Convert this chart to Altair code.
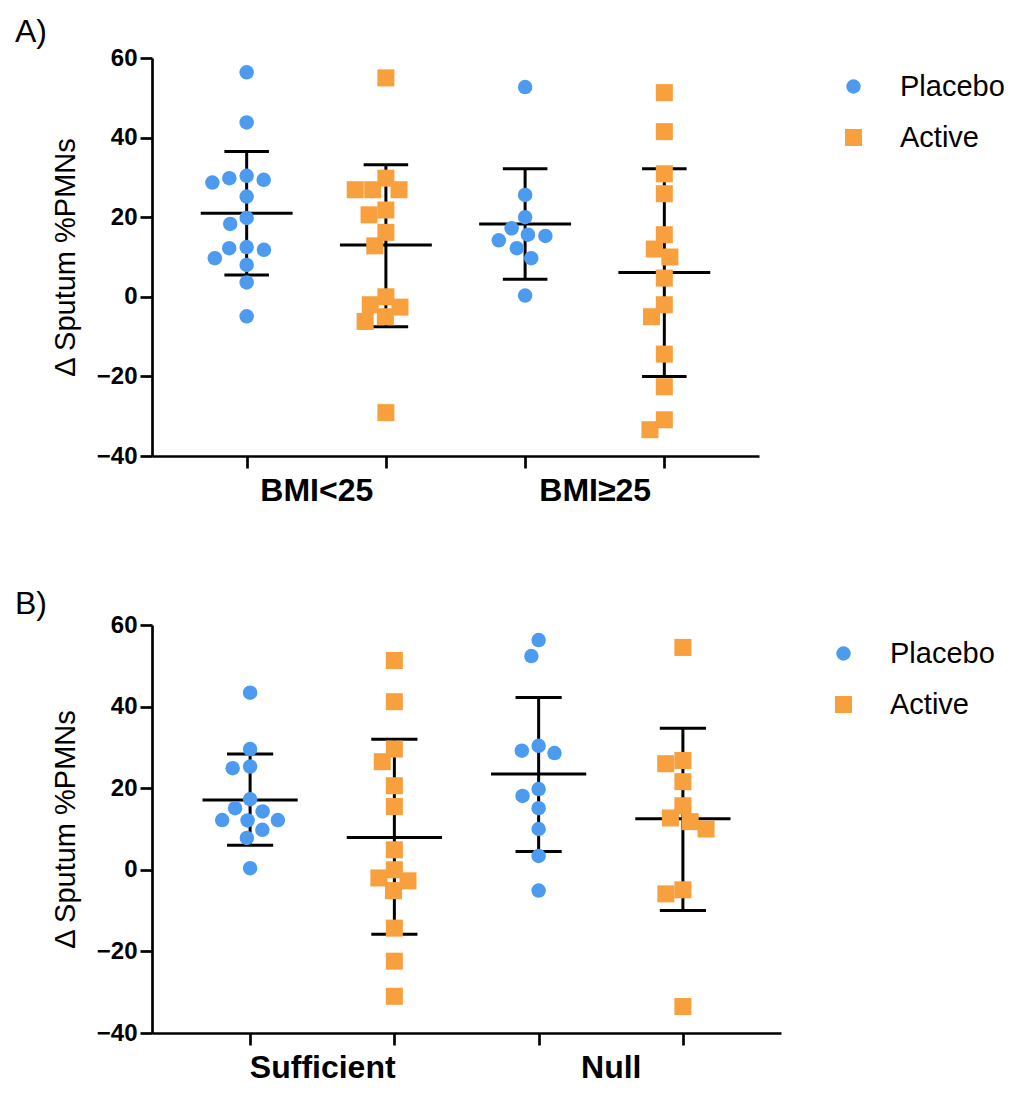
import math
import pandas as pd
import altair as alt

# ---------------- data ----------------
TREATMENTS = ["Placebo", "Active"]

# Panel A (BMI)
A_groups = ["BMI<25", "BMI\u226525"]
A_placebo_g1 = [56.4, 43.8, 30.4, 29.4, 28.7, 29.8, 25.2, 19.8, 18.3, 12.2, 11.8, 12.5, 9.7, 8.0, 3.6, -4.9]
A_active_g1 = [55.0, 29.8, 26.9, 26.9, 26.9, 21.8, 20.6, 16.2, 12.8, 0.0, -2.0, -2.6, -5.0, -6.2, -29.1]
A_placebo_g2 = [52.7, 25.6, 20.0, 17.2, 15.3, 15.6, 14.2, 12.2, 9.7, 0.3]
A_active_g2 = [51.3, 41.5, 30.9, 25.9, 15.6, 12.0, 10.0, 4.7, -2.0, -5.0, -14.4, -22.6, -30.9, -33.4]
A_mean = [21.0, 13.0, 18.3, 6.1]
A_upper = [36.5, 33.2, 32.2, 32.2]
A_lower = [5.5, -7.5, 4.4, -20.0]

# Panel B (vitamin D status)
B_groups = ["Sufficient", "Null"]
B_placebo_g1 = [43.4, 29.6, 25.3, 24.9, 17.3, 14.3, 15.1, 12.2, 12.1, 12.2, 9.8, 7.8, 0.4]
B_active_g1 = [51.3, 41.2, 29.6, 26.5, 20.6, 15.5, 4.9, 0.0, -2.7, -2.0, -5.1, -14.3, -22.4, -31.0]
B_placebo_g2 = [56.3, 52.4, 30.4, 28.6, 29.2, 19.8, 18.1, 15.1, 10.0, 3.4, -5.1]
B_active_g2 = [54.5, 26.0, 26.8, 21.6, 15.7, 12.7, 11.8, 10.0, -4.9, -5.9, -33.5]
B_mean = [17.1, 7.9, 23.5, 12.5]
B_upper = [28.4, 32.0, 42.2, 34.7]
B_lower = [6.0, -15.8, 4.5, -10.0]

Y_TICKS = [-40, -20, 0, 20, 40, 60]
Y_TITLE = "\u0394 Sputum %PMNs"

# ---------------- styling ----------------
BLUE = "#4C9BEF"
ORANGE = "#F8A03E"
FONT = "Liberation Sans"
X_DOMAIN = [-0.68, 3.68]
Y_DOMAIN = [-40, 60]
MEAN_HALF = 0.33
CAP_HALF = 0.16
MARKER_D = 17.5


def swarm(values, d, ypx):
    """Simple beeswarm: horizontal pixel offsets so markers do not overlap."""
    placed = []
    out = [0.0] * len(values)
    order = sorted(range(len(values)), key=lambda i: -values[i])
    for i in order:
        y = values[i] * ypx
        cands = [0.0]
        for px, py in placed:
            dy = abs(py - y)
            if dy < d:
                dx = math.sqrt(d * d - dy * dy)
                cands += [px + dx, px - dx]
        cands.sort(key=lambda c: (round(abs(c), 3), c))
        for c in cands:
            if all((c - px) ** 2 + (y - py) ** 2 >= d * d - 1e-6 for px, py in placed):
                out[i] = c
                placed.append((c, y))
                break
    return out


def panel(letter, groups, series, means, uppers, lowers, width, height, letter_x, letter_y, legend_x, legend_y):
    ypx = height / (Y_DOMAIN[1] - Y_DOMAIN[0])
    xpx = width / (X_DOMAIN[1] - X_DOMAIN[0])
    rows = []
    for col, vals in enumerate(series):
        offs = swarm(vals, MARKER_D, ypx)
        for v, o in zip(vals, offs):
            rows.append({"col": col, "treatment": TREATMENTS[col % 2], "value": v, "xpos": col + o / xpx})
    pts = pd.DataFrame(rows)

    stats = pd.DataFrame({"col": list(range(4)), "mean": means, "hi": uppers, "lo": lowers})
    stats["m1"] = stats["col"] - MEAN_HALF
    stats["m2"] = stats["col"] + MEAN_HALF
    stats["c1"] = stats["col"] - CAP_HALF
    stats["c2"] = stats["col"] + CAP_HALF
    caps = pd.concat([
        stats[["c1", "c2"]].assign(y=stats["hi"]),
        stats[["c1", "c2"]].assign(y=stats["lo"]),
    ])

    label_expr = "datum.value == 0.5 ? '%s' : datum.value == 2.5 ? '%s' : ''" % (groups[0], groups[1])
    xscale = alt.Scale(domain=X_DOMAIN, nice=False, zero=False)
    yscale = alt.Scale(domain=Y_DOMAIN, nice=False, zero=False)
    xaxis = alt.Axis(
        values=[0, 0.5, 1, 2, 2.5, 3], labelExpr=label_expr, title=None,
        tickOpacity={"condition": {"test": "datum.value == 0.5 || datum.value == 2.5", "value": 0}, "value": 1},
    )
    yaxis = alt.Axis(values=Y_TICKS, title=Y_TITLE)

    base_stats = alt.Chart(stats)
    vline = base_stats.mark_rule(color="black", strokeWidth=3).encode(
        x=alt.X("col:Q", scale=xscale, axis=xaxis),
        y=alt.Y("lo:Q", scale=yscale, axis=yaxis),
        y2="hi:Q",
    )
    mline = base_stats.mark_rule(color="black", strokeWidth=3).encode(
        x=alt.X("m1:Q", scale=xscale, axis=xaxis), x2="m2:Q",
        y=alt.Y("mean:Q", scale=yscale, axis=yaxis),
    )
    capl = alt.Chart(caps).mark_rule(color="black", strokeWidth=3).encode(
        x=alt.X("c1:Q", scale=xscale, axis=xaxis), x2="c2:Q",
        y=alt.Y("y:Q", scale=yscale, axis=yaxis),
    )
    points = alt.Chart(pts).mark_point(filled=True, opacity=1, strokeWidth=0).encode(
        x=alt.X("xpos:Q", scale=xscale, axis=xaxis),
        y=alt.Y("value:Q", scale=yscale, axis=yaxis),
        color=alt.Color(
            "treatment:N",
            scale=alt.Scale(domain=TREATMENTS, range=[BLUE, ORANGE]),
            legend=alt.Legend(
                title=None, orient="none", legendX=legend_x, legendY=legend_y,
                labelFont=FONT, labelFontSize=29, labelColor="black", labelOffset=32,
                symbolSize=250, symbolStrokeWidth=0, rowPadding=21,
            ),
        ),
        shape=alt.Shape("treatment:N", scale=alt.Scale(domain=TREATMENTS, range=["circle", "square"])),
        size=alt.Size("treatment:N", scale=alt.Scale(domain=TREATMENTS, range=[210, 290]), legend=None),
    )
    letter_txt = alt.Chart(pd.DataFrame({"t": [letter]})).mark_text(
        font=FONT, fontSize=32, align="left", baseline="alphabetic", color="black"
    ).encode(text="t:N", x=alt.value(letter_x), y=alt.value(letter_y))

    return alt.layer(vline, mline, capl, points, letter_txt).properties(width=width, height=height)


chart_a = panel("A)", A_groups, [A_placebo_g1, A_active_g1, A_placebo_g2, A_active_g2],
                A_mean, A_upper, A_lower, 607, 398, -137, -16, 687, 14)
chart_b = panel("B)", B_groups, [B_placebo_g1, B_active_g1, B_placebo_g2, B_active_g2],
                B_mean, B_upper, B_lower, 629, 408, -137, -11, 677, 14)

chart = alt.vconcat(chart_a, chart_b, spacing=82).resolve_scale(
    color="independent", shape="independent", size="independent"
).resolve_legend(color="independent", shape="independent", size="independent").properties(
    padding={"left": 7, "top": 8, "right": 5, "bottom": 5}, background="white"
).configure_view(stroke="transparent", strokeWidth=0).configure_axisX(
    grid=False, labelFont=FONT, labelFontSize=32, labelFontWeight="bold", labelColor="black",
    labelPadding=7, labelOverlap=False, labelFlush=False,
    tickSize=12, tickWidth=2.7, tickColor="black", domainColor="black", domainWidth=2.7,
).configure_axisY(
    grid=False, labelFont=FONT, labelFontSize=24, labelFontWeight="bold", labelColor="black",
    labelPadding=3, tickSize=12, tickWidth=2.7, tickColor="black", domainColor="black", domainWidth=2.7,
    titleFont=FONT, titleFontSize=29, titleFontWeight="normal", titleColor="black", titlePadding=16,
)

chart.save("out.html", embed_options={"renderer": "svg", "actions": False})
